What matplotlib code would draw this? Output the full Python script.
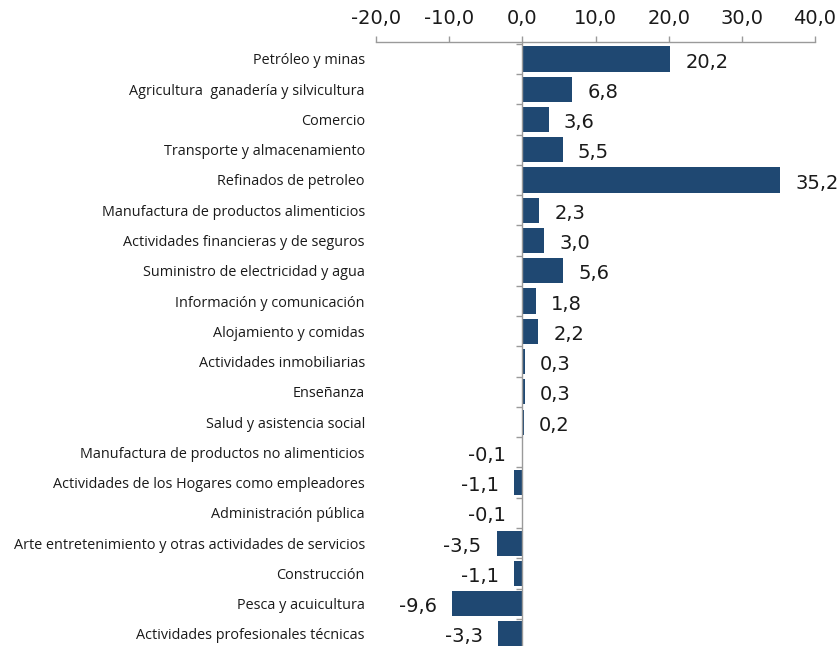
import matplotlib
matplotlib.use("Agg")
import matplotlib.pyplot as plt
import numpy as np
from matplotlib.ticker import FuncFormatter

plt.rcParams['font.family'] = ['Open Sans', 'DejaVu Sans']

categories = [
    "Petróleo y minas",
    "Agricultura  ganadería y silvicultura",
    "Comercio",
    "Transporte y almacenamiento",
    "Refinados de petroleo",
    "Manufactura de productos alimenticios",
    "Actividades financieras y de seguros",
    "Suministro de electricidad y agua",
    "Información y comunicación",
    "Alojamiento y comidas",
    "Actividades inmobiliarias",
    "Enseñanza",
    "Salud y asistencia social",
    "Manufactura de productos no alimenticios",
    "Actividades de los Hogares como empleadores",
    "Administración pública",
    "Arte entretenimiento y otras actividades de servicios",
    "Construcción",
    "Pesca y acuicultura",
    "Actividades profesionales técnicas",
]
values = [20.2, 6.8, 3.6, 5.5, 35.2, 2.3, 3.0, 5.6, 1.8, 2.2,
          0.3, 0.3, 0.2, -0.1, -1.1, -0.1, -3.5, -1.1, -9.6, -3.3]
xticks = [-20, -10, 0, 10, 20, 30, 40]

bar_color = "#1f4872"
grey = "#9a9a9a"
num_font = ['DejaVu Sans']

fig = plt.figure(figsize=(8.4, 6.46), dpi=100)
ax = fig.add_axes([376/840, 0.0, (815-376)/840, (646-42)/646])

y = np.arange(len(categories))
bars = ax.barh(y, values, height=0.83, color=bar_color, zorder=2)

ax.set_xlim(-20, 40)
ax.set_ylim(19.4, -0.56)

fmt = lambda v: f"{v:.1f}".replace('.', ',')
texts = ax.bar_label(bars, labels=[fmt(v) for v in values], padding=11,
                     fontsize=14, color="#1a1a1a", family=num_font)
for t in texts:
    dx, dy = t.xyann
    t.xyann = (dx, dy - 2.2)

ax.xaxis.tick_top()
ax.set_xticks(xticks)
ax.xaxis.set_major_formatter(FuncFormatter(lambda v, p: fmt(v)))
ax.tick_params(axis='x', which='major', direction='out', length=4, width=1,
               color=grey, labelsize=14, pad=6, labelcolor="#1a1a1a")
for lbl in ax.get_xticklabels():
    lbl.set_family(num_font)

ax.set_yticks(y)
ax.set_yticklabels(categories, fontsize=10.4, color="#1a1a1a")
ax.tick_params(axis='y', length=0, pad=8)

for s in ['left', 'right', 'bottom']:
    ax.spines[s].set_visible(False)
ax.spines['top'].set_color(grey)
ax.spines['top'].set_linewidth(1)

ax.axvline(0, color=grey, lw=1, zorder=3)
bounds = np.arange(len(categories) + 1) - 0.5
ax.plot(np.zeros(len(bounds)), bounds, linestyle='none', marker=0,
        markersize=4, color=grey, markeredgewidth=1, zorder=3, clip_on=False)

fig.savefig("out.png", dpi=100)
